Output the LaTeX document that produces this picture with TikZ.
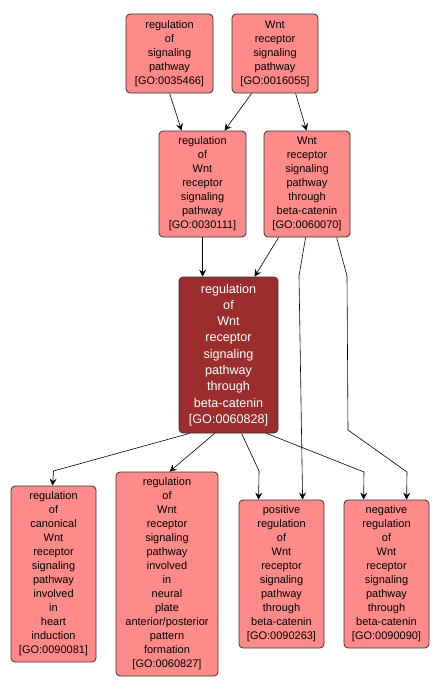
\documentclass[tikz,border=0pt]{standalone}
\usepackage{fontspec}
\setmainfont{Liberation Sans}
\usetikzlibrary{arrows.meta}
\definecolor{nodefill}{HTML}{FF8A8A}
\definecolor{mainfill}{HTML}{9B2D2D}
\definecolor{edgegray}{HTML}{333333}
\tikzset{
  goterm/.style={draw=edgegray, line width=0.8pt, fill=nodefill, rounded corners=4pt,
    inner sep=0pt, align=center, font=\fontsize{11}{14}\selectfont, text=black},
  mainterm/.style={goterm, fill=mainfill, text=white, font=\fontsize{12.6}{16.3}\selectfont},
  link/.style={draw=black, line width=0.6pt, -{Stealth[length=7pt,width=7pt,inset=2.5pt]}}
}
\begin{document}
\begin{tikzpicture}[x=1pt,y=-1pt]
\useasboundingbox[fill=white] (0,0) rectangle (439,693);
\node[goterm, minimum width=87pt, minimum height=79pt] (A) at (169.5,53.5) {regulation\\of\\signaling\\pathway\\{[GO:0035466]}};
\node[goterm, minimum width=86pt, minimum height=79pt] (B) at (275,53.5) {Wnt\\receptor\\signaling\\pathway\\{[GO:0016055]}};
\node[goterm, minimum width=87pt, minimum height=106pt] (C) at (202.5,184) {regulation\\of\\Wnt\\receptor\\signaling\\pathway\\{[GO:0030111]}};
\node[goterm, minimum width=86pt, minimum height=106pt] (D) at (307,184) {Wnt\\receptor\\signaling\\pathway\\through\\beta-catenin\\{[GO:0060070]}};
\node[mainterm, minimum width=99pt, minimum height=156pt] (E) at (228.5,355) {regulation\\of\\Wnt\\receptor\\signaling\\pathway\\through\\beta-catenin\\{[GO:0060828]}};
\node[goterm, minimum width=85pt, minimum height=176pt] (F) at (53.5,574) {regulation\\of\\canonical\\Wnt\\receptor\\signaling\\pathway\\involved\\in\\heart\\induction\\{[GO:0090081]}};
\node[goterm, minimum width=102pt, minimum height=204pt] (G) at (167,574) {regulation\\of\\Wnt\\receptor\\signaling\\pathway\\involved\\in\\neural\\plate\\anterior/posterior\\pattern\\formation\\{[GO:0060827]}};
\node[goterm, minimum width=85pt, minimum height=148pt] (H) at (281.5,574) {positive\\regulation\\of\\Wnt\\receptor\\signaling\\pathway\\through\\beta-catenin\\{[GO:0090263]}};
\node[goterm, minimum width=85pt, minimum height=148pt] (I) at (386.5,574) {negative\\regulation\\of\\Wnt\\receptor\\signaling\\pathway\\through\\beta-catenin\\{[GO:0090090]}};

\draw[link] ([xshift=44pt]A.south west) -- ([xshift=23pt]C.north west);
\draw[link] ([xshift=20pt]B.south west) -- ([xshift=66pt]C.north west);
\draw[link] ([xshift=64pt]B.south west) -- ([xshift=43pt]D.north west);
\draw[link] ([xshift=44pt]C.south west) -- ([xshift=24pt]E.north west);
\draw[link] ([xshift=15pt]D.south west) -- ([xshift=76pt]E.north west);
\draw[link] ([xshift=42pt]D.south west) -- (299,276) -- ([xshift=64pt]H.north west);
\draw[link] ([xshift=73pt]D.south west) -- (347,276) -- (348,430) -- (407,472) -- ([xshift=63pt]I.north west);
\draw[link] ([xshift=11pt]E.south west) -- (53.5,471) -- ([xshift=42pt]F.north west);
\draw[link] ([xshift=36pt]E.south west) -- ([xshift=54pt]G.north west);
\draw[link] ([xshift=63pt]E.south west) -- (259,471) -- ([xshift=20pt]H.north west);
\draw[link] ([xshift=88pt]E.south west) -- (364,472) -- ([xshift=20pt]I.north west);
\end{tikzpicture}
\end{document}
